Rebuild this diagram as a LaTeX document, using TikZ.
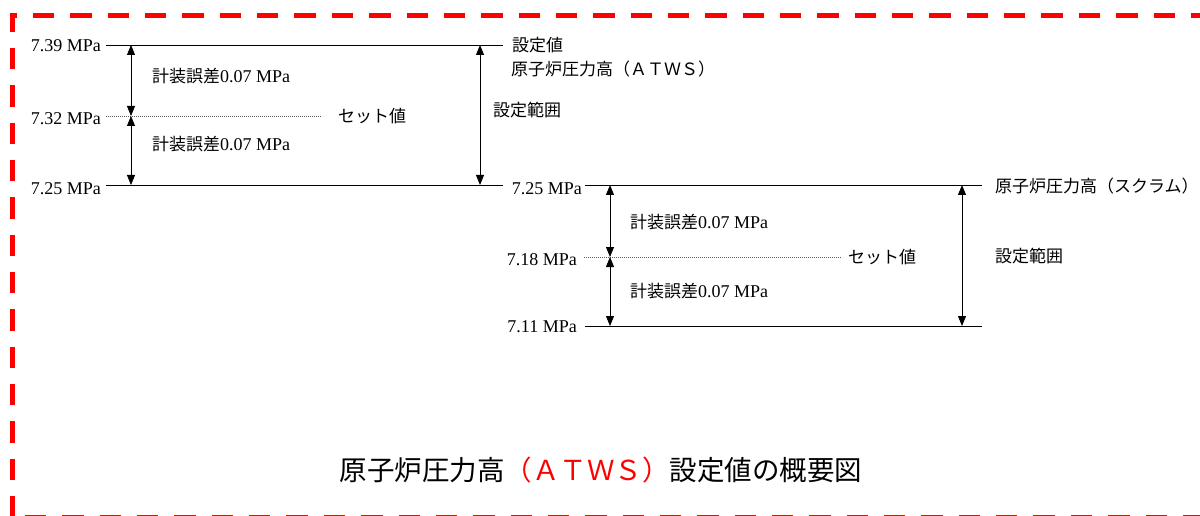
\documentclass[tikz,border=0pt]{standalone}
\usepackage{fontspec}
\setmainfont{Liberation Serif}
\newfontfamily\jp{Noto Sans CJK JP}
\usetikzlibrary{arrows.meta}
\newcommand{\lat}[1]{{\fontsize{18}{20}\selectfont\rmfamily #1}}
\begin{document}
\begin{tikzpicture}[x=1pt,y=-1pt,
  lvl/.style={line width=0.9pt, black},
  setline/.style={line width=0.7pt, gray!70!black, dash pattern=on 1pt off 1pt},
  dim/.style={line width=0.8pt, {Triangle[length=10pt,width=8pt]}-{Triangle[length=10pt,width=8pt]}},
  val/.style={anchor=base east, inner sep=0pt, font=\fontsize{18}{20}\selectfont},
  lab/.style={anchor=west, inner sep=0pt, font=\fontsize{17}{20}\selectfont\jp},
  frame/.style={red, line width=5pt, dash pattern=on 21.35pt off 16pt}
]
\useasboundingbox (0,0) rectangle (1200,516);
\clip (0,0) rectangle (1200,516);

% red dashed frame
\draw[frame, dash phase=13.85pt] (9.5,16) -- (1215,16);
\draw[frame, dash phase=3pt] (12,13.5) -- (12,520);
\draw[frame, dash phase=24.35pt] (12,517) -- (1215,517);

% ---------- ATWS group ----------
\coordinate (A1a) at (106,45);  \coordinate (A1b) at (503,45);
\coordinate (A2a) at (106,116); \coordinate (A2b) at (322,116);
\coordinate (A3a) at (106,185); \coordinate (A3b) at (503,185);
\draw[lvl] (A1a) -- (A1b);
\draw[setline] (A2a) -- (A2b);
\draw[lvl] (A3a) -- (A3b);

\coordinate (Ad1) at (131,45); \coordinate (Ad2) at (131,116); \coordinate (Ad3) at (131,185);
\draw[dim] (Ad1) -- (Ad2);
\draw[dim] (Ad2) -- (Ad3);
\coordinate (Ar1) at (480,45); \coordinate (Ar2) at (480,185);
\draw[dim] (Ar1) -- (Ar2);

\node[val] (Av1) at (101,52) {7.39 MPa};
\node[val] (Av2) at (101,125) {7.32 MPa};
\node[val] (Av3) at (101,195) {7.25 MPa};

\node[lab] (Ae1) at (152,76) {計装誤差\lat{0.07 MPa}};
\node[lab] (Ae2) at (152,144) {計装誤差\lat{0.07 MPa}};
\node[lab] (As) at (338,116) {セット値};
\node[lab] (At1) at (512,45) {設定値};
\node[lab] (At2) at (511,69) {原子炉圧力高（ＡＴＷＳ）};
\node[lab] (Ar) at (493,110) {設定範囲};

% ---------- Scram group ----------
\coordinate (S1a) at (585,185); \coordinate (S1b) at (982,185);
\coordinate (S2a) at (584,257); \coordinate (S2b) at (842,257);
\coordinate (S3a) at (585,326); \coordinate (S3b) at (982,326);
\draw[lvl] (S1a) -- (S1b);
\draw[setline] (S2a) -- (S2b);
\draw[lvl] (S3a) -- (S3b);

\coordinate (Sd1) at (610,185); \coordinate (Sd2) at (610,257); \coordinate (Sd3) at (610,326);
\draw[dim] (Sd1) -- (Sd2);
\draw[dim] (Sd2) -- (Sd3);
\coordinate (Sr1) at (962,185); \coordinate (Sr2) at (962,326);
\draw[dim] (Sr1) -- (Sr2);

\node[val] (Sv1) at (582,195) {7.25 MPa};
\node[val] (Sv2) at (577,265) {7.18 MPa};
\node[val] (Sv3) at (577,332) {7.11 MPa};

\node[lab] (Se1) at (630,222) {計装誤差\lat{0.07 MPa}};
\node[lab] (Se2) at (630,291) {計装誤差\lat{0.07 MPa}};
\node[lab] (Ss) at (848,257) {セット値};
\node[lab] (St) at (995,186) {原子炉圧力高（スクラム）};
\node[lab] (Sr) at (995,256) {設定範囲};

% ---------- title ----------
\node[inner sep=0pt, font=\fontsize{27.5}{32}\selectfont\jp] (title) at (601,470)
  {原子炉圧力高\textcolor{red}{（ＡＴＷＳ）}設定値の概要図};
\end{tikzpicture}
\end{document}
